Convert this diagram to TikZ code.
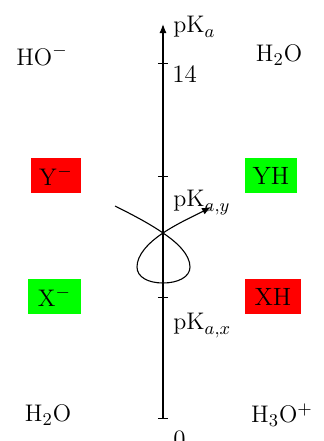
\documentclass[tikz,border=0pt]{standalone}
\usetikzlibrary{arrows.meta}
\begin{document}
\begin{tikzpicture}[x=0.5pt,y=-0.5pt,
  every node/.style={font=\fontsize{12.5}{15}\selectfont, inner sep=0pt},
  lbl/.style={anchor=base west},
  spec/.style={anchor=center},
  redbox/.style={fill=red, minimum height=17.5pt},
  greenbox/.style={fill=green, minimum height=17.5pt},
  axisline/.style={line width=0.6pt},
  tickmark/.style={line width=0.5pt},
  loopline/.style={line width=0.55pt}]
\useasboundingbox (0,0) rectangle (323,441);
% axis
\coordinate (bot) at (163,418);
\coordinate (top) at (163,24);
\draw[axisline,-{Latex[length=4.5pt,width=3.5pt]}] (bot) -- (top);
% ticks
\foreach \y/\n in {63/t14,176/ty,297/tx,418/t0}{
  \coordinate (\n) at (163,\y);
  \draw[tickmark] ([xshift=-2.5pt]\n) -- ([xshift=2.5pt]\n);
}
% axis labels
\node[lbl] (lpka) at (173,32) {$\mathrm{pK}_a$};
\node[lbl] (l14) at (172,82) {14};
\node[lbl] (lpky) at (173,206) {$\mathrm{pK}_{a,y}$};
\node[lbl] (lpkx) at (173,329) {$\mathrm{pK}_{a,x}$};
\node[lbl] (l0) at (173,447) {0};
% species
\node[spec] (ho) at (42,55) {$\mathrm{HO}^-$};
\node[spec] (h2ot) at (279,55) {$\mathrm{H_2O}$};
\node[spec] (h2ob) at (48,415) {$\mathrm{H_2O}$};
\node[spec] (h3o) at (282,415) {$\mathrm{H_3O^+}$};
\node[redbox, minimum width=25pt] (ym) at (56,175.5) {$\mathrm{Y}^-$};
\node[greenbox, minimum width=26pt] (yh) at (271,175.5) {YH};
\node[greenbox, minimum width=26.5pt] (xm) at (54.5,296.5) {$\mathrm{X}^-$};
\node[redbox, minimum width=28pt] (xh) at (273,296.5) {XH};
% loop curve
\coordinate (c0) at (115,206);
\coordinate (cx) at (163,233);
\coordinate (cr) at (190,267);
\coordinate (cb) at (163,283);
\coordinate (cl) at (137,267);
\coordinate (ce) at (211,207);
\draw[loopline,-{Latex[length=4.5pt,width=3.5pt]}] (c0) .. controls (135,216) and (150,224) .. (cx)
  .. controls (178,243) and (190,255) .. (cr)
  .. controls (190,277) and (178,283) .. (cb)
  .. controls (148,283) and (137,277) .. (cl)
  .. controls (137,255) and (148,243) .. (cx)
  .. controls (178,223) and (196,215) .. (ce);
\end{tikzpicture}
\end{document}
